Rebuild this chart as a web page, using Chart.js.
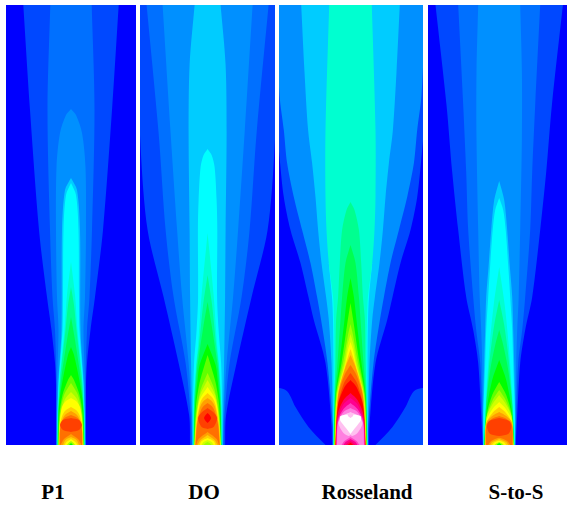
<!DOCTYPE html>
<html>
<head>
<meta charset="utf-8">
<title>Flame contours</title>
<script src="https://cdn.jsdelivr.net/npm/chart.js@4/dist/chart.umd.min.js"></script>
<style>
  html, body { margin: 0; padding: 0; background: #fff; }
  canvas { position: absolute; top: 5px; }
  .name { position: absolute; top: 480px; width: 120px; text-align: center; font: bold 21px "Liberation Serif", serif; color: #000; }
</style>
</head>
<body>
<script>
// blue -> cyan -> green -> yellow -> red -> magenta -> white
const levelColours = [
  "#0000ff", "#0048ff", "#0070ff", "#0090ff", "#00ccff", "#00ffff",
  "#00ffd0", "#00ff90", "#00ff50", "#00ff00", "#60ff00", "#a0ff00",
  "#d0ff00", "#ffff00", "#ffd000", "#ffa000", "#ff7000", "#ff4000",
  "#ff0000", "#ff0060", "#ff0090", "#ff40c0", "#ff80e0", "#ffc0f0", "#ffffff",
];

const panelNames = ["P1", "DO", "Rosseland", "S-to-S"];
const panelLeft = [6, 140, 279, 428];
const panelWidth = [130, 135, 144, 139];
const nameCentre = [53, 204, 367, 516];
// radial range of each panel, the flame axis is at r = 0
const panelRMin = [-65, -67.6, -71.5, -71.2];
const panelRMax = [65, 67.4, 72.5, 67.8];
const axialMax = 440;

// contours: [level, axial positions, radius] or [level, axial positions, left, right], painted in order
const p1Contours = [
  [0, [0, 440], [90, 90]],
  [1, [0, 60, 82, 115, 148, 215, 335, 440], [15, 15, 16, 19.5, 24, 32, 41, 47.7]],
  [2, [0, 60, 115, 148, 215, 335, 440], [14.6, 14.6, 16, 18.5, 21, 23.5, 20.7]],
  [3, [0, 60, 115, 148, 215, 278, 312, 330, 336], [14.4, 14, 12.5, 14, 15, 14.5, 11, 5, 0]],
  [4, [0, 60, 115, 215, 255, 267], [14.2, 12.8, 9.5, 9, 6, 0]],
  [5, [0, 30, 64, 115, 148, 215, 250, 262], [14, 13.5, 12.2, 8.5, 8, 7.5, 5, 0]],
  [6, [0, 30, 64, 115, 150, 183], [13.7, 13.2, 11.5, 6.5, 4, 0]],
  [7, [0, 30, 64, 115, 140, 158], [13.5, 13, 11, 5.5, 3, 0]],
  [8, [0, 30, 64, 105, 128], [13.2, 12.7, 10, 4, 0]],
  [9, [0, 40, 64, 90, 98], [13, 12, 8.5, 3, 0]],
  [10, [0, 30, 50, 65, 70], [12.8, 11.7, 8.5, 3, 0]],
  [11, [0, 30, 50, 62], [12.5, 11, 7, 0]],
  [12, [0, 25, 45, 53], [12.2, 11, 6.5, 0]],
  [13, [0, 25, 38, 44, 47], [12, 11, 9, 5, 0]],
  [14, [0, 20, 30, 35, 38], [11.7, 11, 8.5, 5, 0]],
  [15, [0, 15, 26, 31, 34], [11.5, 11, 8.5, 5, 0]],
  [16, [0, 15, 24, 28, 30], [11.2, 11, 9, 5, 0]],
  [17, [13, 15, 20, 25, 27], [0, 8, 11, 8, 0]],
  [15, [0, 6, 11], [10.5, 7, 0]],
  [14, [0, 5, 8], [8, 5.5, 0]],
  [13, [0, 3, 6], [6.5, 4.5, 0]],
  [11, [0, 2, 4], [4, 2.5, 0]],
  [9, [0, 1, 2], [2, 1, 0]],
];

const doContours = [
  [0, [0, 440], [90, 90]],
  [1, [0, 30, 82, 148, 215, 298, 440], [17.5, 18.5, 29, 44, 60, 67, 72]],
  [2, [0, 30, 82, 148, 215, 312, 440], [16, 17, 22, 34, 42, 49, 61]],
  [3, [0, 30, 82, 148, 215, 312, 440], [15.5, 16, 19, 25.5, 30.5, 37, 45]],
  [4, [0, 30, 82, 148, 215, 312, 380, 440], [15.2, 15.5, 16.5, 17.5, 18, 19, 18, 13]],
  [5, [0, 40, 82, 115, 148, 215, 245, 278, 290, 296], [14.5, 14.5, 13.5, 11, 9.5, 9.7, 9, 7, 4, 0]],
  [6, [0, 40, 80, 100, 150, 212], [14.2, 13.8, 11.5, 9.5, 6, 0]],
  [7, [0, 40, 80, 100, 140, 170], [14, 13.5, 11, 8.5, 4.5, 0]],
  [8, [0, 40, 75, 90, 120, 143], [13.8, 13, 10.5, 8.5, 4, 0]],
  [9, [0, 40, 65, 80, 101], [13.6, 12.5, 10, 8, 0]],
  [10, [0, 40, 60, 70, 90], [13.4, 11.5, 8.5, 6, 0]],
  [11, [0, 30, 55, 72], [13.2, 11.5, 7, 0]],
  [12, [0, 30, 50, 65], [13, 11, 7.5, 0]],
  [13, [0, 25, 45, 58], [12.8, 11, 8, 0]],
  [14, [0, 20, 40, 47, 52], [12.6, 11.5, 8, 5, 0]],
  [15, [0, 20, 38, 44, 47], [12.4, 11, 7.5, 4, 0]],
  [16, [0, 20, 34, 39, 42], [12, 10.5, 7, 4, 0]],
  [17, [16, 18, 27, 33, 37], [0, 6, 9.5, 5.5, 0]],
  [18, [22, 24, 27, 30, 32], [0, 2, 3.5, 2, 0]],
  [15, [0, 6, 13], [11.5, 9, 0]],
  [14, [0, 5, 10], [10, 7, 0]],
  [13, [0, 4, 7], [8, 6, 0]],
  [12, [0, 3, 5], [6, 4, 0]],
  [11, [0, 2, 3], [4, 2, 0]],
];

const rosselandContours = [
  [0, [0, 440], [90, 90]],
  [1, [0, 18, 38, 55, 58], [-90, -90, -90, -90, -90], [-25, -42, -55, -65, -90]],
  [1, [0, 18, 38, 55, 58], [25, 42, 55, 65, 90], [90, 90, 90, 90, 90]],
  [1, [0, 20, 82, 125, 148, 182, 215, 248, 285, 440], [18.5, 19, 25, 36.7, 42, 50, 60, 66.7, 70.7, 85]],
  [3, [0, 20, 82, 125, 148, 182, 215, 248, 282, 315, 350, 440], [17.5, 17.8, 23, 29.4, 33.4, 40, 48.4, 56.7, 63.4, 66.7, 71, 75]],
  [4, [0, 20, 82, 125, 148, 182, 215, 248, 282, 315, 373, 440], [17.3, 17.5, 19, 21.7, 24.4, 29, 32.4, 35, 38.4, 42.4, 46, 49.3]],
  [5, [0, 82, 125, 148, 182], [17.1, 17, 17.5, 18.5, 21.7]],
  [6, [0, 20, 82, 125, 148, 182, 215, 248, 315, 440], [17, 16.5, 16, 16.5, 17.4, 21.7, 24, 25, 25, 21.3]],
  [7, [0, 50, 82, 125, 148, 182, 215, 235, 243], [16.8, 16, 15, 14.4, 12.4, 10.7, 8.4, 4, 0]],
  [8, [0, 50, 82, 125, 148, 182, 200], [16.6, 15.5, 13, 10, 8.4, 5, 0]],
  [9, [0, 50, 82, 125, 148, 167], [16.4, 15, 11, 6, 3.4, 0]],
  [10, [0, 50, 82, 125, 142], [16.2, 14.5, 9, 2.7, 0]],
  [11, [0, 50, 82, 110, 121], [16, 14, 7.5, 2.5, 0]],
  [12, [0, 50, 82, 100, 111], [15.8, 13.5, 6, 3, 0]],
  [13, [0, 50, 82, 95, 103], [15.6, 13, 5, 2.5, 0]],
  [14, [0, 50, 80, 96], [15.6, 12.8, 5, 0]],
  [15, [0, 50, 78, 90], [15.4, 12.5, 5, 0]],
  [16, [0, 50, 70, 80], [15.2, 12, 6, 0]],
  [17, [0, 40, 62, 72], [15, 12.5, 6.5, 0]],
  [18, [0, 40, 58, 65], [14.8, 12.5, 6, 0]],
  [19, [0, 30, 45, 52], [14.6, 13, 7, 0]],
  [20, [0, 25, 40, 47], [14.4, 13, 7.5, 0]],
  [21, [0, 25, 36, 42], [14.2, 12.5, 7, 0]],
  [22, [0, 22, 33, 37], [13.5, 12.5, 7, 0]],
  [23, [8, 12, 22, 29, 33], [0, 7, 12, 8, 0]],
  [24, [11, 15, 20, 25, 29, 31], [0, 3, 7, 10.5, 10, 0]],
  [23, [27, 29, 32], [0, 2.5, 3]],
  [22, [0, 5, 10], [11, 8, 0]],
  [21, [0, 4, 8], [9, 6, 0]],
  [20, [0, 3, 6], [7, 5, 0]],
  [19, [0, 2, 4], [5, 3, 0]],
  [18, [0, 1, 2.5], [3, 1.5, 0]],
];

const stosContours = [
  [0, [0, 440], [90, 90]],
  [1, [0, 30, 82, 115, 148, 215, 273, 340, 440], [16.5, 18, 21, 26, 33, 41, 47, 52.7, 63.7]],
  [2, [0, 30, 82, 115, 148, 215, 273, 340, 440], [16.2, 17, 19, 23, 26, 31, 33, 36, 41]],
  [3, [0, 30, 82, 115, 148, 215, 307, 373, 440], [16, 16.5, 17, 18, 19.5, 21, 22.7, 22.7, 21]],
  [4, [0, 30, 82, 115, 148, 180, 215, 245, 264], [15.8, 16, 15, 14, 13, 10.5, 8, 5, 0]],
  [5, [0, 30, 82, 115, 148, 180, 215, 235, 247], [15.6, 15.8, 14, 13, 11, 9, 6.5, 4, 0]],
  [6, [0, 50, 100, 140, 178], [15.4, 13, 9.5, 5.5, 0]],
  [7, [0, 50, 90, 120, 145], [15.2, 12.5, 9, 5, 0]],
  [8, [0, 40, 75, 100, 115], [15, 13, 9, 4, 0]],
  [9, [0, 35, 65, 85], [14.8, 12.5, 7, 0]],
  [10, [0, 30, 50, 63], [14.6, 12.5, 7, 0]],
  [11, [0, 28, 45, 55], [14.4, 12.5, 6.5, 0]],
  [12, [0, 28, 42, 50], [14.2, 12.5, 6, 0]],
  [13, [0, 25, 37, 43], [14, 12.5, 6, 0]],
  [14, [0, 22, 33, 38], [13.8, 12.8, 6, 0]],
  [15, [0, 22, 29, 33], [13.6, 12.8, 7, 0]],
  [16, [0, 20, 26, 29], [13.4, 12.8, 7.5, 0]],
  [17, [9, 11, 18, 24, 27], [0, 9, 12.2, 10, 0]],
  [15, [0, 4, 7.5], [11, 8, 0]],
  [14, [0, 3, 6], [9, 7, 0]],
  [13, [0, 2.5, 4.5], [7, 5, 0]],
  [11, [0, 1.5, 3], [4.5, 3, 0]],
  [9, [0, 1, 2], [2.5, 1.5, 0]],
];

const panelContours = [p1Contours, doContours, rosselandContours, stosContours];

function buildDatasets(contours) {
  const datasets = [];
  contours.forEach((contour, k) => {
    const level = contour[0];
    const axial = contour[1];
    const left = contour.length > 3 ? contour[2] : contour[2].map((r) => -r);
    const right = contour.length > 3 ? contour[3] : contour[2];
    const base = { borderWidth: 0, pointRadius: 0, tension: 0.3, order: contours.length - k };
    datasets.push({
      ...base,
      data: axial.map((z, i) => ({ x: left[i], y: z })),
      fill: false,
    });
    datasets.push({
      ...base,
      data: axial.map((z, i) => ({ x: right[i], y: z })),
      fill: "-1",
      backgroundColor: levelColours[level],
    });
  });
  return datasets;
}

panelNames.forEach((name, p) => {
  const canvas = document.createElement("canvas");
  canvas.style.left = panelLeft[p] + "px";
  canvas.style.width = panelWidth[p] + "px";
  canvas.style.height = axialMax + "px";
  canvas.width = panelWidth[p];
  canvas.height = axialMax;
  document.body.appendChild(canvas);

  new Chart(canvas, {
    type: "line",
    data: { datasets: buildDatasets(panelContours[p]) },
    options: {
      indexAxis: "y",
      responsive: false,
      animation: false,
      layout: { padding: 0 },
      plugins: { legend: { display: false }, tooltip: { enabled: false } },
      scales: {
        x: { type: "linear", display: false, min: panelRMin[p], max: panelRMax[p] },
        y: { type: "linear", display: false, min: 0, max: axialMax },
      },
    },
  });

  const label = document.createElement("div");
  label.className = "name";
  label.textContent = name;
  label.style.left = nameCentre[p] - 60 + "px";
  document.body.appendChild(label);
});
</script>
</body>
</html>
